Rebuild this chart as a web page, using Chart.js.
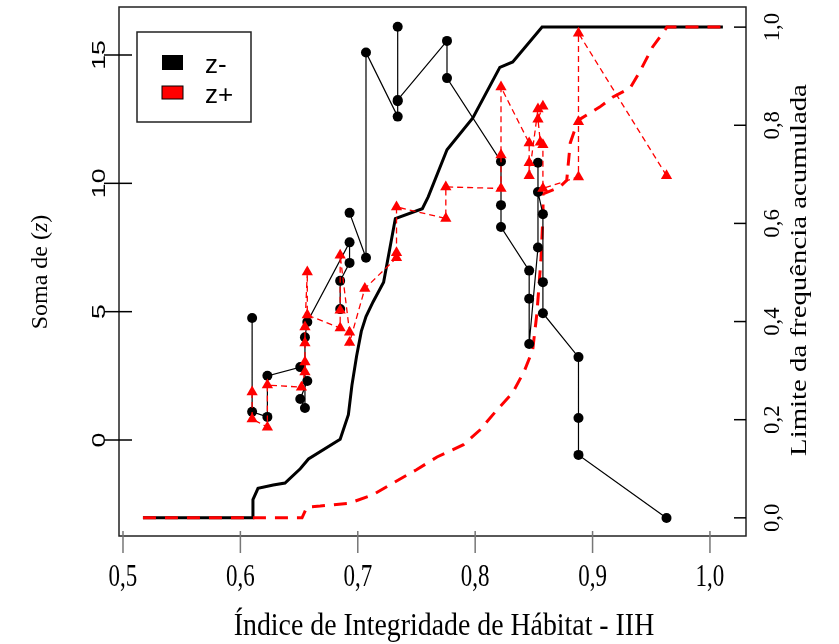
<!DOCTYPE html>
<html>
<head>
<meta charset="utf-8">
<script src="https://cdn.jsdelivr.net/npm/chart.js@4.4.1/dist/chart.umd.min.js"></script>
<style>
  html, body { margin: 0; padding: 0; background: #fff; }
  canvas { display: block; }
</style>
</head>
<body>
<canvas id="mycanvas" width="839" height="644"></canvas>
<script>
// axis ticks and labels
var xTicks = [0.5, 0.6, 0.7, 0.8, 0.9, 1.0];
var xTickLabels = ['0,5', '0,6', '0,7', '0,8', '0,9', '1,0'];
var zTicks = [0, 5, 10, 15];
var zTickLabels = ['0', '5', '10', '15'];
var fTicks = [0, 0.2, 0.4, 0.6, 0.8, 1.0];
var fTickLabels = ['0,0', '0,2', '0,4', '0,6', '0,8', '1,0'];
var legendLabels = ['z-', 'z+'];

// z- taxa : sum of z (null = break in the line)
var zMinusX = [0.610, 0.610, 0.623, 0.623, 0.651, 0.657, 0.651, 0.655, 0.655, 0.657,
  0.693, 0.693, 0.685, 0.685, 0.690, 0.693, 0.707, 0.707, 0.734, 0.734, 0.734, 0.734,
  0.776, 0.776, 0.822, 0.822, 0.822, 0.846, 0.846, 0.846, 0.8535, 0.8535, 0.8535,
  0.8577, 0.8577, 0.8577, 0.888, 0.888, 0.888, 0.963];
var zMinusY = [4.75, 1.1, 0.9, 2.5, 2.84, 2.3, 1.6, 1.25, 4.0, 4.6,
  7.7, 6.9, 6.2, 5.1, null, 8.85, 7.1, 15.1, 12.6, 13.2, 16.1, 13.25,
  15.55, 14.1, 10.85, 9.15, 8.3, 6.6, 5.5, 3.74, 7.5, 10.8, 9.66,
  8.8, 6.15, 4.94, 3.23, 0.86, -0.58, -3.04];

// z+ taxa : sum of z
var zPlusX = [0.610, 0.610, 0.623, 0.623, 0.652, 0.655, 0.655, 0.655, 0.655, 0.657, 0.657,
  0.685, 0.685, 0.685, 0.693, 0.693, 0.706, 0.733, 0.733, 0.733, 0.775, 0.775,
  0.822, 0.822, 0.822, 0.846, 0.846, 0.846, 0.8535, 0.8577, 0.8535, 0.8555, 0.8577, 0.8577,
  0.888, 0.888, 0.888, 0.963];
var zPlusY = [1.87, 0.82, 0.5, 2.14, 2.06, 2.65, 3.04, 3.78, 4.4, 6.55, 4.87,
  4.36, 5.06, 7.2, 4.2, 3.8, 5.9, 7.1, 7.3, 9.08, 8.63, 9.86,
  9.8, 11.1, 13.75, 11.57, 10.8, 10.3, 12.9, 13.0, 12.5, 11.6, 11.5, 9.8,
  10.25, 12.4, 15.85, 10.3];

// cumulative frequency of change points (right axis)
var cumMinusX = [0.517, 0.6107, 0.6107, 0.615, 0.628, 0.638, 0.651, 0.658, 0.685, 0.692,
  0.695, 0.699, 0.703, 0.707, 0.713, 0.722, 0.732, 0.755, 0.760, 0.776, 0.798, 0.821,
  0.832, 0.857, 1.011];
var cumMinusY = [0, 0, 0.037, 0.06, 0.067, 0.071, 0.10, 0.12, 0.16, 0.21,
  0.27, 0.33, 0.38, 0.41, 0.44, 0.48, 0.61, 0.63, 0.654, 0.75, 0.815, 0.918,
  0.929, 1.0, 1.0];
var cumPlusX = [0.517, 0.6525, 0.6567, 0.668, 0.693, 0.713, 0.730, 0.750, 0.7675, 0.790,
  0.804, 0.8186, 0.832, 0.842, 0.849, 0.8526, 0.856, 0.8578, 0.8578, 0.872, 0.878,
  0.881, 0.8876, 0.906, 0.917, 0.932, 0.940, 0.951, 0.9634, 1.011];
var cumPlusY = [0, 0, 0.022, 0.024, 0.030, 0.047, 0.071, 0.098, 0.124, 0.149,
  0.179, 0.22, 0.255, 0.30, 0.342, 0.417, 0.525, 0.62, 0.66, 0.674, 0.688,
  0.764, 0.81, 0.837, 0.857, 0.876, 0.908, 0.959, 1.0, 1.0];

function pts(xs, ys) {
  var out = [];
  for (var i in xs) {
    out.push({ x: xs[i], y: ys[i] });
  }
  return out;
}

// draw a text, k = stretch along the text, t = stretch across it
function drawText(ctx, s, x, y, font, rot, k, t) {
  ctx.save();
  ctx.translate(x, y);
  if (rot) ctx.rotate(rot);
  ctx.scale(k, t);
  ctx.font = font;
  ctx.fillStyle = '#000';
  ctx.textAlign = 'center';
  ctx.textBaseline = 'middle';
  ctx.fillText(s, 0, 0);
  ctx.restore();
}

// "Soma de (z)" with an italic z
function drawZTitle(ctx, x, y) {
  var parts = ['Soma de (', 'z', ')'];
  var fonts = ['24px "Liberation Serif"', 'italic 24px "Liberation Serif"', '24px "Liberation Serif"'];
  var w = [], total = 0, i;
  ctx.save();
  for (i = 0; i < 3; i++) {
    ctx.font = fonts[i];
    w.push(ctx.measureText(parts[i]).width);
    total += w[i];
  }
  ctx.translate(x, y);
  ctx.rotate(-Math.PI / 2);
  ctx.fillStyle = '#000';
  ctx.textAlign = 'left';
  ctx.textBaseline = 'middle';
  var pos = -total / 2;
  for (i = 0; i < 3; i++) {
    ctx.font = fonts[i];
    ctx.fillText(parts[i], pos, 0);
    pos += w[i];
  }
  ctx.restore();
}

var framePlugin = {
  id: 'frame',
  afterDraw: function(chart) {
    var ctx = chart.ctx;
    var a = chart.chartArea;
    var sx = chart.scales.x, sy = chart.scales.y, sf = chart.scales.y2;
    var i, p;

    ctx.save();
    // box
    ctx.strokeStyle = '#222';
    ctx.lineWidth = 1.5;
    ctx.strokeRect(a.left, a.top, a.right - a.left, a.bottom - a.top);

    // left ticks
    ctx.strokeStyle = '#000';
    ctx.lineWidth = 1.5;
    for (i in zTicks) {
      p = sy.getPixelForValue(zTicks[i]);
      ctx.beginPath(); ctx.moveTo(a.left - 15, p); ctx.lineTo(a.left + 13, p); ctx.stroke();
      drawText(ctx, zTickLabels[i], 100, p, '19px "Liberation Sans"', -Math.PI / 2, 1.4, 1);
    }
    // right ticks
    for (i in fTicks) {
      p = sf.getPixelForValue(fTicks[i]);
      ctx.beginPath(); ctx.moveTo(a.right - 12, p); ctx.lineTo(a.right, p); ctx.stroke();
      drawText(ctx, fTickLabels[i], 773, p, '24px "Liberation Serif"', -Math.PI / 2, 0.95, 1);
    }
    // bottom ticks
    ctx.strokeStyle = '#777';
    for (i in xTicks) {
      p = sx.getPixelForValue(xTicks[i]);
      ctx.beginPath(); ctx.moveTo(p, a.bottom - 5); ctx.lineTo(p, a.bottom + 17); ctx.stroke();
      drawText(ctx, xTickLabels[i], p, 578, '23px "Liberation Serif"', 0, 1, 1.35);
    }

    // axis titles
    drawText(ctx, '\u00cdndice de Integridade de H\u00e1bitat - IIH', 444, 626, '24px "Liberation Serif"', 0, 1.16, 1.35);
    drawZTitle(ctx, 41, 272);
    drawText(ctx, 'Limite da frequ\u00eancia acumulada', 800, 270, '24px "Liberation Serif"', -Math.PI / 2, 1.2, 1);

    // legend
    ctx.fillStyle = '#fff';
    ctx.fillRect(137, 32, 114, 90);
    ctx.strokeStyle = '#222';
    ctx.lineWidth = 1.5;
    ctx.strokeRect(137, 32, 114, 90);
    ctx.fillStyle = '#000';
    ctx.fillRect(162, 55, 21, 15);
    ctx.fillStyle = '#ff0000';
    ctx.fillRect(162, 86, 21, 13);
    ctx.strokeStyle = '#000';
    ctx.lineWidth = 1;
    ctx.strokeRect(162, 86, 21, 13);
    ctx.fillStyle = '#000';
    ctx.font = '26px "Liberation Sans"';
    ctx.textAlign = 'left';
    ctx.textBaseline = 'middle';
    ctx.fillText(legendLabels[0], 205, 66);
    ctx.fillText(legendLabels[1], 205, 96);
    ctx.restore();
  }
};

var ctx = document.getElementById('mycanvas');

var chartdata = {
  datasets: [
    {
      label: legendLabels[1],
      data: pts(zPlusX, zPlusY),
      yAxisID: 'y',
      showLine: true,
      spanGaps: false,
      borderColor: '#ff0000',
      borderWidth: 1.3,
      borderDash: [6, 4],
      pointStyle: 'triangle',
      pointRadius: 6.5,
      pointBackgroundColor: '#ff0000',
      pointBorderColor: '#ff0000',
      pointBorderWidth: 0,
      order: 0
    },
    {
      label: legendLabels[0],
      data: pts(zMinusX, zMinusY),
      yAxisID: 'y',
      showLine: true,
      spanGaps: false,
      borderColor: '#000',
      borderWidth: 1.2,
      pointStyle: 'circle',
      pointRadius: 5,
      pointBackgroundColor: '#000',
      pointBorderColor: '#000',
      pointBorderWidth: 0,
      order: 1
    },
    {
      label: 'cum z+',
      data: pts(cumPlusX, cumPlusY),
      yAxisID: 'y2',
      showLine: true,
      borderColor: '#ff0000',
      borderWidth: 3,
      borderDash: [13, 9],
      pointRadius: 0,
      order: 2
    },
    {
      label: 'cum z-',
      data: pts(cumMinusX, cumMinusY),
      yAxisID: 'y2',
      showLine: true,
      borderColor: '#000',
      borderWidth: 3,
      pointRadius: 0,
      order: 3
    }
  ]
};

var LineGraph = new Chart(ctx, {
  type: 'scatter',
  data: chartdata,
  options: {
    responsive: false,
    animation: false,
    devicePixelRatio: 1,
    layout: { padding: { left: 119, right: 93, top: 7, bottom: 108 } },
    plugins: { legend: { display: false }, tooltip: { enabled: false } },
    scales: {
      x: { type: 'linear', min: 0.4966, max: 1.0307, display: false },
      y: { type: 'linear', min: -3.74, max: 16.87, display: false },
      y2: { type: 'linear', min: -0.037, max: 1.041, display: false, position: 'right' }
    }
  },
  plugins: [framePlugin]
});
</script>
</body>
</html>
